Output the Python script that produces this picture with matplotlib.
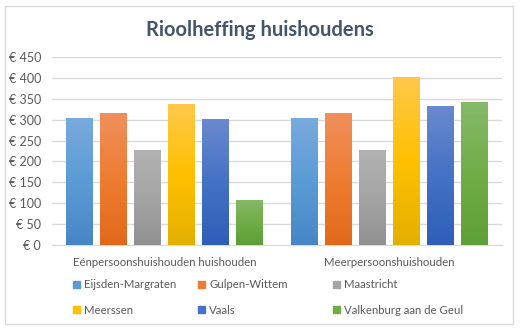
import numpy as np
import matplotlib
matplotlib.use('Agg')
import matplotlib.pyplot as plt
from matplotlib.colors import LinearSegmentedColormap
from matplotlib.patches import Rectangle

plt.rcParams['font.family'] = ['Lato', 'DejaVu Sans']

categories = ['Eénpersoonshuishouden huishouden', 'Meerpersoonshuishouden']
gemeenten = ['Eijsden-Margraten', 'Gulpen-Wittem', 'Maastricht',
             'Meerssen', 'Vaals', 'Valkenburg aan de Geul']
eijsden = [303, 303]
gulpen = [315, 315]
maastricht = [228, 228]
meerssen = [337, 401]
vaals = [301, 332]
valkenburg = [108, 342]
series = [eijsden, gulpen, maastricht, meerssen, vaals, valkenburg]
yticks = [0, 50, 100, 150, 200, 250, 300, 350, 400, 450]

# (top, middle, bottom) colours of the gradient fill
grads = [('#78aadd', '#5b9bd5', '#4786c6'),
         ('#f18f5c', '#ed7d31', '#e2691a'),
         ('#b2b2b2', '#a5a5a5', '#919191'),
         ('#ffc84a', '#ffc000', '#e3b000'),
         ('#6a89d0', '#4472c4', '#2e5eb8'),
         ('#86b968', '#70ad47', '#5e9f37')]
legend_cols = [g[1] for g in grads]

fig = plt.figure(figsize=(5.2, 3.29), dpi=100)
ax = fig.add_axes([52/520, 1 - 245/329, 450/520, 188/329])

# chart border
fig.patches.append(Rectangle((5/520, 5/329), 508/520, 318/329, transform=fig.transFigure,
                             fill=False, edgecolor='#d9d9d9', linewidth=1))

x = np.arange(len(categories))
n = len(series)
pitch = 0.151
bw = 0.12
grad = np.linspace(0, 1, 256).reshape(-1, 1)
for i, vals in enumerate(series):
    cmap = LinearSegmentedColormap.from_list('g%d' % i, [grads[i][2], grads[i][1], grads[i][0]])
    pos = x + (i - (n - 1) / 2) * pitch
    bars = ax.bar(pos, vals, width=bw, color=legend_cols[i], zorder=2)
    for b in bars:
        im = ax.imshow(grad, cmap=cmap, aspect='auto', origin='lower', zorder=3,
                       extent=[b.get_x(), b.get_x() + b.get_width(), 0, b.get_height()])
        im.set_clip_path(b)

ax.set_xlim(-0.5, 1.5)
ax.set_ylim(0, 450)
ax.set_yticks(yticks)
ax.set_yticklabels(['€ %d' % v for v in yticks])
ax.set_xticks(x)
ax.set_xticklabels(categories, fontsize=8.2)
ax.yaxis.grid(True, color='#d9d9d9', linewidth=1, zorder=0)
ax.set_axisbelow(True)
for s in ['top', 'right', 'left']:
    ax.spines[s].set_visible(False)
ax.spines['bottom'].set_color('#d9d9d9')
ax.tick_params(axis='both', length=0, colors='#595959')
ax.tick_params(axis='y', labelsize=9, pad=8)
ax.tick_params(axis='x', pad=9)

fig.text(0.5, 1 - 30/329, 'Rioolheffing huishoudens', ha='center', va='center',
         fontsize=14.5, fontweight='bold', color='#44546a')

# legend: three columns, placed one by one so the rows read left to right
col_x = [67, 192, 327]
for c in range(3):
    idx = [c, c + 3]
    handles = [Rectangle((0, 0), 1, 1, color=legend_cols[k]) for k in idx]
    leg = fig.legend(handles, [gemeenten[k] for k in idx], loc='center left',
                     frameon=False, bbox_to_anchor=(col_x[c]/520, 1 - 297.5/329),
                     fontsize=8.2, handlelength=0.65, handleheight=0.65,
                     handletextpad=0.35, labelspacing=1.25, borderpad=0)
    for t in leg.get_texts():
        t.set_color('#595959')

fig.savefig('out.png', dpi=100)
